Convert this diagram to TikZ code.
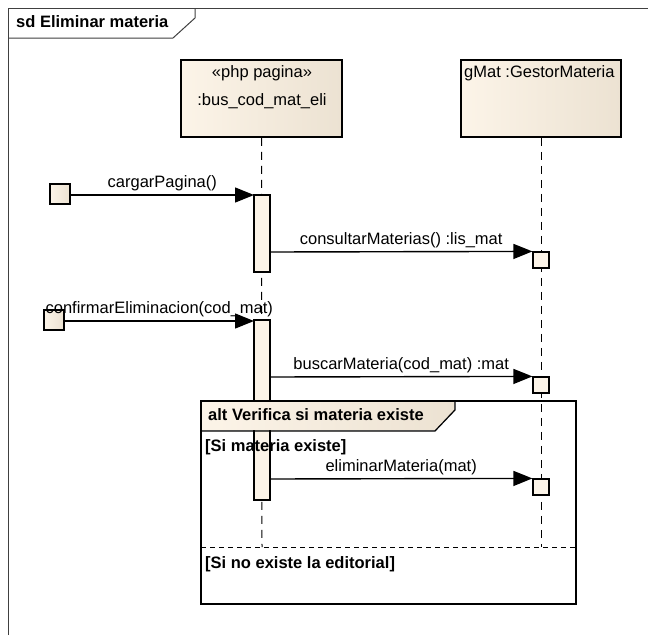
\documentclass[tikz,border=0pt]{standalone}
\usepackage{fontspec}
\setmainfont{Liberation Sans}
\usetikzlibrary{arrows.meta}
\definecolor{beigeL}{RGB}{252,244,232}
\definecolor{beigeR}{RGB}{236,226,210}
\tikzset{
  umltext/.style={font=\fontsize{16.5}{19}\selectfont, inner sep=1pt},
  umlbold/.style={font=\fontsize{16.5}{19}\selectfont\bfseries, inner sep=1pt},
  objbox/.style={draw, line width=1.8pt, left color=beigeL, right color=beigeR},
  actbox/.style={draw, line width=1.2pt, fill=beigeL},
  lifeline/.style={line width=1pt, dash pattern=on 8pt off 6pt},
  msg/.style={line width=1.4pt, -{Triangle[length=19pt,width=15pt]}},
}
\begin{document}
\begin{tikzpicture}[x=1pt,y=-1pt]
\useasboundingbox[fill=white] (0,0) rectangle (648,635);
% marco sd
\draw[line width=1pt,black!75] (8,635) -- (8,8) -- (648,8);
\draw[line width=1pt,black!75] (8,38) -- (173,38) -- (195,18) -- (195,8);
\node[umlbold, anchor=west] (titulo) at (15,22) {sd Eliminar materia};
% lineas de vida
\coordinate (finA) at (262,547);
\coordinate (finB) at (541,547);
\node[objbox, minimum width=161pt, minimum height=77pt] (pag) at (261.5,98.5) {};
\node[objbox, minimum width=160pt, minimum height=77pt] (gmat) at (541,98.5) {};
\node[umltext] (pagst) at (262,73) {«php pagina»};
\node[umltext] (pagnm) at (262,101) {:bus\_cod\_mat\_eli};
\node[umltext, anchor=west] (gmatnm) at (463,73) {gMat :GestorMateria};
\draw[lifeline] (pag.south) -- (finA);
\draw[lifeline] (gmat.south) -- (finB);
% activaciones
\draw[actbox] (254,195) rectangle (270,272) node[coordinate] (act1) {};
\draw[actbox] (254,320) rectangle (270,500) node[coordinate] (act2) {};
\node[actbox, minimum size=16pt, inner sep=0pt] (r1) at (541,260) {};
\node[actbox, minimum size=16pt, inner sep=0pt] (r2) at (541,385) {};
\node[actbox, minimum size=16pt, inner sep=0pt] (r3) at (541,487) {};
% mensajes encontrados
\node[actbox, left color=beigeL, right color=beigeR, minimum size=20pt, inner sep=0pt] (ini1) at (60,194) {};
\node[actbox, left color=beigeL, right color=beigeR, minimum size=20pt, inner sep=0pt] (ini2) at (54,320) {};
\coordinate (a1) at (254,195);
\coordinate (a2) at (254,321);
\draw[msg] (ini1.east |- a1) -- node[umltext, above=2pt] {cargarPagina()} (a1);
\draw[msg] (ini2.east |- a2) -- node[umltext, above=2pt] {confirmarEliminacion(cod\_mat)} (a2);
% mensajes al gestor
\draw[msg] (270,252) -- node[umltext, above=2pt] {consultarMaterias() :lis\_mat} (r1.north west);
\draw[msg] (270,377) -- node[umltext, above=2pt] {buscarMateria(cod\_mat) :mat} (r2.north west);
\draw[msg] (270,479) -- node[umltext, above=2pt] {eliminarMateria(mat)} (r3.north west);
% fragmento alt
\draw[line width=1.8pt] (201,401) rectangle (576,604);
\fill[left color=beigeL, right color=beigeR] (202,402) -- (454,402) -- (454,410) -- (435,430) -- (202,430) -- cycle;
\draw[line width=1.2pt] (201,431) -- (435,431) -- (455,410) -- (455,401);
\node[umlbold, anchor=west] (alt) at (207,415) {alt Verifica si materia existe};
\node[umlbold, anchor=west] (g1) at (204,447) {[Si materia existe]};
\draw[line width=1pt, dash pattern=on 5pt off 4pt] (201,547) -- (576,547);
\node[umlbold, anchor=west] (g2) at (204,564) {[Si no existe la editorial]};
\end{tikzpicture}
\end{document}
